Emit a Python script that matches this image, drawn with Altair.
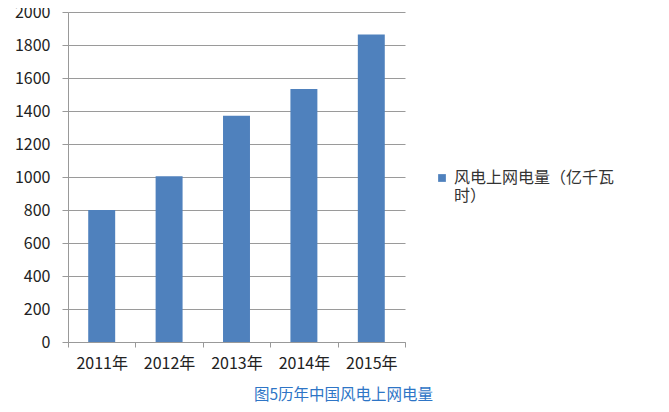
import altair as alt
import pandas as pd

years = ["2011年", "2012年", "2013年", "2014年", "2015年"]
values = [800, 1004, 1371, 1534, 1863]
series = "风电上网电量（亿千瓦时）"

df = pd.DataFrame({"year": years, "value": values, "series": [series] * len(years)})

font = "Noto Sans CJK SC"

chart = alt.Chart(df).mark_bar(color="#4f81bd", width=alt.RelativeBandSize(0.4)).encode(
    x=alt.X("year:N", sort=years, title=None,
            scale=alt.Scale(paddingInner=0, paddingOuter=0),
            axis=alt.Axis(labelAngle=0, labelFontSize=16, labelColor="#222222",
                          labelFont=font, domainColor="#999999", tickColor="#999999",
                          tickBand="extent", tickSize=5, labelPadding=8, grid=False)),
    y=alt.Y("value:Q", title=None,
            scale=alt.Scale(domain=[0, 2000]),
            axis=alt.Axis(values=list(range(0, 2001, 200)), format="d", labelFontSize=16,
                          labelColor="#222222", labelFont=font, gridColor="#9a9a9a",
                          domainColor="#999999", tickColor="#999999", tickSize=6,
                          labelPadding=12)),
    color=alt.Color("series:N", scale=alt.Scale(range=["#4f81bd"]),
                    legend=alt.Legend(title=None, orient="none", legendX=366, legendY=158,
                                      symbolType="square", symbolSize=60,
                                      labelFontSize=16, labelFont=font, labelColor="#333333",
                                      labelExpr="['风电上网电量（亿千瓦', '时）']",
                                      labelLimit=300)),
).properties(
    width=337, height=330,
    autosize=alt.AutoSizeParams(type="none"),
    padding={"left": 60, "top": 4, "right": 256, "bottom": 62},
    title=alt.TitleParams("图5历年中国风电上网电量", orient="bottom", anchor="middle",
                          fontSize=15.5, font=font, fontWeight="normal", color="#2e75c6",
                          dx=107, offset=17),
).configure_view(stroke=None)

chart.save("out.html", embed_options={"renderer": "svg", "actions": False})
